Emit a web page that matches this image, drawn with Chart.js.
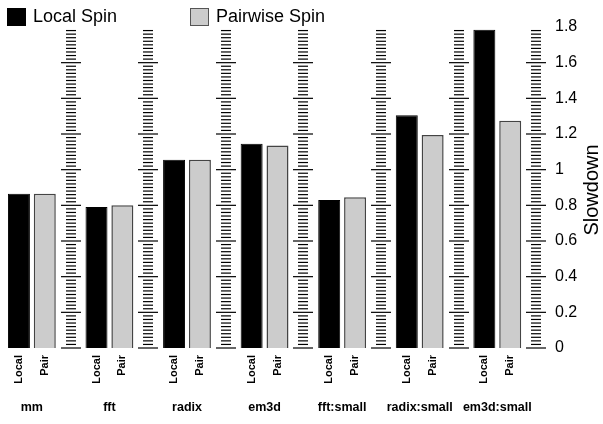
<!DOCTYPE html>
<html>
<head>
<meta charset="utf-8">
<script src="https://cdn.jsdelivr.net/npm/chart.js@4.4.1/dist/chart.umd.min.js"></script>
<style>
  html, body { margin: 0; padding: 0; background: #fff; }
  #wrap { width: 603px; height: 424px; }
</style>
</head>
<body>
<div id="wrap"><canvas id="c" width="603" height="424"></canvas></div>
<script>
const groups = ['mm', 'fft', 'radix', 'em3d', 'fft:small', 'radix:small', 'em3d:small'];
const barLabels = ['Local', 'Pair'];
const localSpin = [0.865, 0.79, 1.055, 1.145, 0.83, 1.305, 1.785];
const pairwiseSpin = [0.865, 0.80, 1.055, 1.135, 0.845, 1.195, 1.275];
const seriesNames = ['Local Spin', 'Pairwise Spin'];
const yMin = 0, yMax = 1.8, yStep = 0.2;
const rulerTop = 1.78, rulerMinor = 0.02;

const FONT = '"Liberation Sans", Arial, Helvetica, sans-serif';

// Build slot categories: Local, Pair, ruler slot per group
const categories = [];
const localData = [];
const pairData = [];
groups.forEach((g, i) => {
  categories.push(barLabels[0], barLabels[1], '');
  localData.push(localSpin[i], null, null);
  pairData.push(null, pairwiseSpin[i], null);
});

const rulerPlugin = {
  id: 'rulers',
  afterDatasetsDraw(chart) {
    const ctx = chart.ctx;
    const xs = chart.scales.x, ys = chart.scales.y;
    ctx.save();
    ctx.strokeStyle = '#000';
    ctx.lineWidth = 1.2;
    const n = Math.round(rulerTop / rulerMinor);
    for (let i = 0; i < groups.length; i++) {
      const cx = xs.getPixelForValue(3 * i + 2);
      for (let k = 0; k <= n; k++) {
        const v = k * rulerMinor;
        const y = ys.getPixelForValue(v);
        const half = (k % 10 === 0) ? 10 : 5;
        ctx.beginPath();
        ctx.moveTo(Math.round(cx - half), y);
        ctx.lineTo(Math.round(cx + half), y);
        ctx.stroke();
      }
    }
    ctx.restore();
  },
  afterDraw(chart) {
    const ctx = chart.ctx;
    const xs = chart.scales.x;
    ctx.save();
    // group labels
    ctx.fillStyle = '#000';
    ctx.font = 'bold 12.5px ' + FONT;
    ctx.textAlign = 'center';
    ctx.textBaseline = 'middle';
    groups.forEach((g, i) => {
      const x = (xs.getPixelForValue(3 * i) + xs.getPixelForValue(3 * i + 1)) / 2;
      ctx.fillText(g, x, 408);
    });
    // legend
    const ds = chart.data.datasets;
    const legendX = [7, 190];
    ctx.font = '18px ' + FONT;
    ctx.textAlign = 'left';
    ds.forEach((d, i) => {
      const bx = legendX[i];
      ctx.fillStyle = d.backgroundColor;
      ctx.fillRect(bx, 8, 19, 18);
      ctx.strokeStyle = i === 0 ? '#000' : '#555';
      ctx.lineWidth = 1;
      ctx.strokeRect(bx + 0.5, 8.5, 18, 17);
      ctx.fillStyle = '#000';
      ctx.fillText(d.label, bx + 26, 17);
    });
    // axis title
    ctx.font = '20px ' + FONT;
    ctx.textAlign = 'center';
    ctx.textBaseline = 'middle';
    ctx.translate(592, 190);
    ctx.rotate(-Math.PI / 2);
    ctx.fillText('Slowdown', 0, 0);
    ctx.restore();
  }
};

new Chart(document.getElementById('c'), {
  type: 'bar',
  data: {
    labels: categories,
    datasets: [
      {
        label: seriesNames[0],
        data: localData,
        backgroundColor: '#000000',
        borderColor: '#000000',
        borderWidth: 1,
        barPercentage: 0.85,
        categoryPercentage: 1.0
      },
      {
        label: seriesNames[1],
        data: pairData,
        backgroundColor: '#cccccc',
        borderColor: '#444444',
        borderWidth: 1.5,
        barPercentage: 0.85,
        categoryPercentage: 1.0
      }
    ]
  },
  options: {
    responsive: false,
    animation: false,
    devicePixelRatio: 1,
    layout: { padding: { top: 27, left: 6, right: 0, bottom: 0 } },
    plugins: {
      legend: { display: false },
      tooltip: { enabled: false }
    },
    scales: {
      x: {
        stacked: true,
        grid: { display: false, drawTicks: false },
        border: { display: false },
        ticks: {
          autoSkip: false,
          minRotation: 90,
          maxRotation: 90,
          padding: 7,
          color: '#000',
          font: { family: FONT, size: 11, weight: 'bold' }
        },
        afterFit(scale) { scale.height = 76; }
      },
      y: {
        position: 'right',
        min: yMin,
        max: yMax,
        grid: { display: false, drawTicks: false },
        border: { display: false },
        ticks: {
          stepSize: yStep,
          padding: 6,
          color: '#000',
          font: { family: FONT, size: 16 },
          callback: (v) => String(Math.round(v * 10) / 10)
        },
        afterFit(scale) { scale.width = 54; }
      }
    }
  },
  plugins: [rulerPlugin]
});
</script>
</body>
</html>
